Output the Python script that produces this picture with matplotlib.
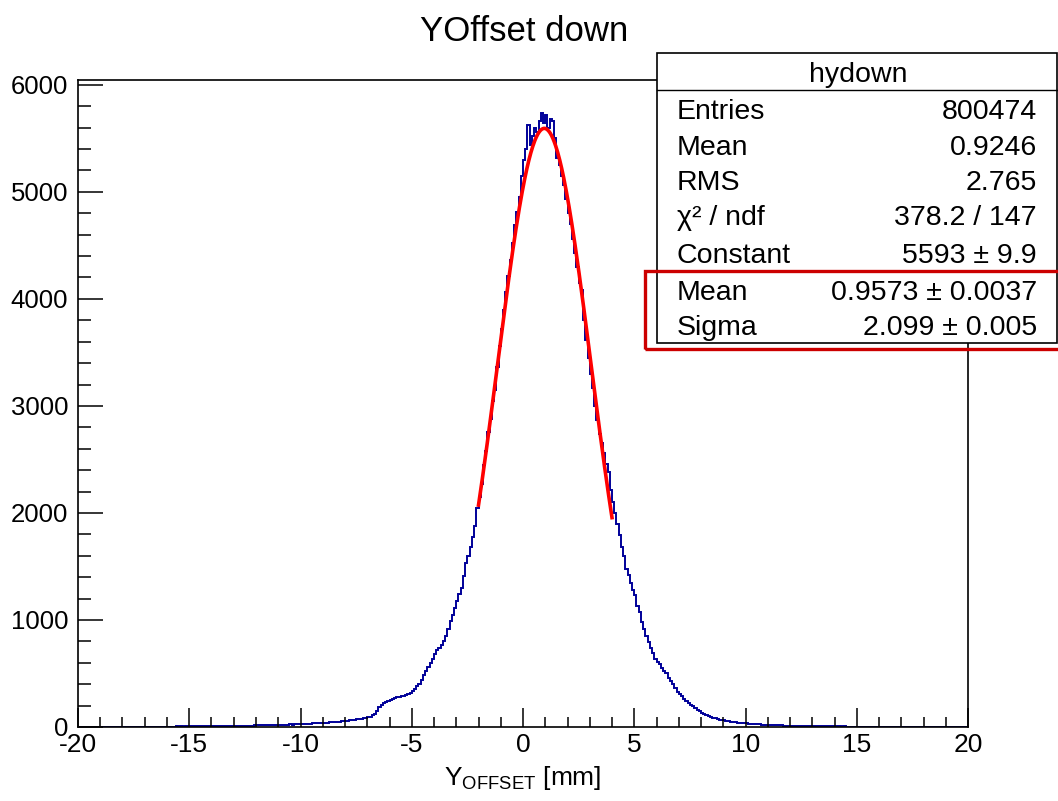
"""YOffset down histogram with gaussian fit and ROOT-like stats box."""

import matplotlib.pyplot as plt
import numpy as np
from matplotlib.lines import Line2D
from matplotlib.patches import Rectangle
from matplotlib.ticker import MultipleLocator

plt.rcParams["font.family"] = ["Liberation Sans", "DejaVu Sans"]
plt.rcParams["mathtext.fontset"] = "custom"
plt.rcParams["mathtext.rm"] = "Liberation Sans"
plt.rcParams["mathtext.it"] = "Liberation Sans:italic"
plt.rcParams["axes.unicode_minus"] = False

# histogram range and counts (0.1 mm bins)
X_MIN, X_MAX = -20.0, 20.0
counts = [
    1, 0, 1, 1, 0, 1, 1, 0, 1, 1,                      # -20
    1, 1, 0, 1, 1, 2, 1, 1, 2, 1,                      # -19
    1, 2, 1, 2, 2, 1, 2, 2, 3, 2,                      # -18
    2, 3, 2, 3, 2, 3, 3, 4, 3, 3,                      # -17
    4, 3, 4, 4, 5, 4, 5, 4, 5, 6,                      # -16
    5, 6, 5, 6, 7, 6, 7, 7, 8, 7,                      # -15
    8, 7, 8, 9, 8, 9, 10, 9, 10, 11,                   # -14
    10, 11, 12, 11, 13, 12, 13, 14, 13, 15,            # -13
    15, 16, 15, 17, 16, 18, 17, 19, 18, 20,            # -12
    20, 21, 22, 21, 23, 24, 23, 25, 26, 27,            # -11
    28, 27, 30, 31, 30, 33, 34, 33, 36, 37,            # -10
    38, 40, 41, 43, 44, 46, 48, 50, 52, 55,            # -9
    57, 60, 62, 66, 68, 72, 75, 79, 82, 86,            # -8
    92, 98, 108, 125, 150, 185, 205, 220, 232, 245,    # -7
    255, 262, 270, 276, 280, 288, 292, 300, 306, 315,  # -6
    335, 355, 380, 405, 440, 490, 520, 560, 600, 640,  # -5
    680, 715, 740, 770, 800, 850, 920, 990, 1050, 1110,        # -4
    1175, 1240, 1300, 1410, 1530, 1600, 1680, 1775, 1880, 2050,  # -3
    2150, 2270, 2450, 2580, 2760, 2880, 3050, 3150, 3360, 3560,  # -2
    3720, 3900, 4060, 4210, 4360, 4520, 4690, 4810, 4950, 5150,  # -1
    5300, 5400, 5620, 5440, 5520, 5600, 5560, 5660, 5740, 5640,  # 0
    5720, 5600, 5680, 5660, 5500, 5320, 5250, 5150, 5060, 4930,  # 1
    4800, 4700, 4560, 4430, 4300, 4150, 4080, 3800, 3620, 3450,  # 2
    3300, 3170, 3000, 2870, 2740, 2650, 2560, 2460, 2380, 2210,  # 3
    2100, 2000, 1900, 1790, 1680, 1600, 1480, 1420, 1350, 1280,  # 4
    1230, 1130, 1070, 980, 920, 850, 790, 740, 690, 640,         # 5
    610, 590, 555, 525, 500, 460, 430, 400, 360, 330,            # 6
    305, 285, 262, 245, 225, 210, 192, 178, 160, 146,            # 7
    135, 124, 115, 105, 96, 88, 82, 76, 70, 65,                  # 8
    61, 57, 54, 50, 47, 45, 42, 40, 38, 36,                      # 9
    34, 32, 31, 29, 27, 26, 25, 23, 22, 21,                      # 10
    20, 19, 18, 17, 16, 16, 15, 14, 14, 13,                      # 11
    12, 12, 11, 11, 10, 10, 9, 9, 9, 8,                          # 12
    8, 8, 7, 7, 7, 6, 6, 6, 6, 5,                                # 13
    5, 5, 5, 4, 5, 4, 4, 4, 4, 3,                                # 14
    4, 3, 3, 3, 3, 3, 2, 3, 2, 2,                                # 15
    2, 3, 2, 2, 2, 1, 2, 2, 1, 2,                                # 16
    2, 1, 1, 2, 1, 1, 1, 2, 1, 1,                                # 17
    1, 1, 1, 0, 1, 1, 1, 0, 1, 1,                                # 18
    1, 0, 1, 0, 1, 1, 0, 0, 1, 0,                                # 19
]

# gaussian fit parameters (from the stats box)
fit_low, fit_high = -2.0, 4.0
fit_constant = 5593.0
fit_mean = 0.9573
fit_sigma = 2.099

stats_title = "hydown"
stats_labels = ["Entries", "Mean", "RMS", "χ² / ndf", "Constant", "Mean", "Sigma"]
stats_values = ["800474", "0.9246", "2.765", "378.2 / 147",
                "5593 ± 9.9", "0.9573 ± 0.0037", "2.099 ± 0.005"]

W, H = 1058, 801


def fx(px):
    return px / W


def fy(py):
    return 1.0 - py / H


fig = plt.figure(figsize=(W / 100, H / 100), dpi=100)
ax = fig.add_axes([fx(78), fy(727), (968 - 78) / W, (727 - 80) / H])

edges = np.linspace(X_MIN, X_MAX, len(counts) + 1)
ax.stairs(counts, edges, color="#000099", linewidth=1.4, baseline=0)

xf = np.linspace(fit_low, fit_high, 200)
yf = fit_constant * np.exp(-0.5 * ((xf - fit_mean) / fit_sigma) ** 2)
ax.plot(xf, yf, color="#ff0000", linewidth=2.6)

ax.set_xlim(X_MIN, X_MAX)
ax.set_ylim(0, 6045)
ax.xaxis.set_major_locator(MultipleLocator(5))
ax.xaxis.set_minor_locator(MultipleLocator(1))
ax.yaxis.set_major_locator(MultipleLocator(1000))
ax.yaxis.set_minor_locator(MultipleLocator(200))
ax.tick_params(axis="x", which="major", direction="in", length=14, width=1.1, labelsize=19, pad=4)
ax.tick_params(axis="x", which="minor", direction="in", length=7, width=1.1)
ax.tick_params(axis="y", which="major", direction="in", length=18, width=1.1, labelsize=18.5, pad=7)
ax.tick_params(axis="y", which="minor", direction="in", length=9, width=1.1)
for spine in ax.spines.values():
    spine.set_linewidth(1.2)

ax.set_xlabel(r"Y$_{\mathrm{OFFSET}}$ [mm]", fontsize=19, labelpad=5)

fig.text(fx(524), fy(41), "YOffset down", ha="center", va="baseline", fontsize=25)

# stats box
box = Rectangle((fx(657), fy(343)), (1057 - 657) / W, (343 - 53) / H,
                transform=fig.transFigure, facecolor="white", edgecolor="black",
                linewidth=1.2, zorder=5)
fig.add_artist(box)
fig.add_artist(Line2D([fx(657), fx(1057)], [fy(90), fy(90)], transform=fig.transFigure,
                      color="black", linewidth=1.0, zorder=6))
fig.text(fx(858), fy(82), stats_title, ha="center", va="baseline", fontsize=20.5, zorder=7)
row_baselines = [119, 155, 190, 225, 263, 300, 335]
for label, value, base in zip(stats_labels, stats_values, row_baselines):
    fig.text(fx(677), fy(base), label, ha="left", va="baseline", fontsize=20.5, zorder=7)
    fig.text(fx(1037), fy(base), value, ha="right", va="baseline", fontsize=20.5, zorder=7)

# red highlight around the fitted mean/sigma
fig.add_artist(Rectangle((fx(645), fy(349)), (1065 - 645) / W, (349 - 271) / H,
                         transform=fig.transFigure, facecolor="none", edgecolor="#cc0000",
                         linewidth=2.4, zorder=8))

fig.savefig("out.png", dpi=100)
plt.close(fig)
